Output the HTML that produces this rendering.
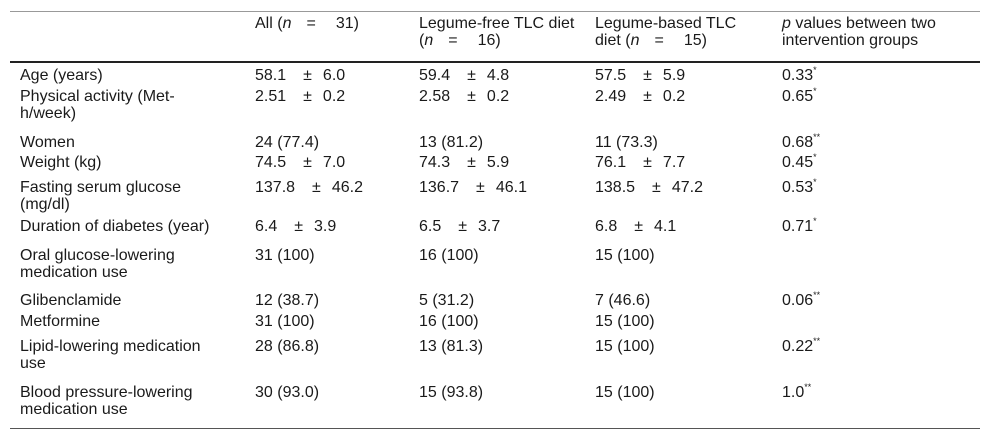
<!DOCTYPE html>
<html><head><meta charset="utf-8"><style>
body{margin:0;width:992px;height:441px;background:#fff;position:relative;font-family:"Liberation Sans",sans-serif;font-size:16px;color:#1a1a1a;overflow:hidden}
.l{position:absolute;left:10px;width:970px}
.t{position:absolute;line-height:17px;white-space:nowrap}
.pm{margin:0 11px 0 17px}
.eq{margin:0 20px 0 15px}
sup{font-size:9px;line-height:0;vertical-align:7px}
</style></head><body>
<div class="l" style="top:11px;height:1px;background:#999"></div>
<div class="l" style="top:61px;height:2px;background:#222"></div>
<div class="l" style="top:428px;height:1px;background:#555"></div>
<div id="c"></div>
<script>
const X=[20,255,419,595,782];
const P='<span class="pm">±</span>';
const E='<span class="eq">=</span>';
const rows=[
[15,['','All (<i>n</i>'+E+'31)','Legume-free TLC diet<br>(<i>n</i>'+E+'16)','Legume-based TLC<br>diet (<i>n</i>'+E+'15)','<i>p</i> values between two<br>intervention groups']],
[67,['Age (years)','58.1'+P+'6.0','59.4'+P+'4.8','57.5'+P+'5.9','0.33<sup>*</sup>']],
[88,['Physical activity (Met-<br>h/week)','2.51'+P+'0.2','2.58'+P+'0.2','2.49'+P+'0.2','0.65<sup>*</sup>']],
[134,['Women','24 (77.4)','13 (81.2)','11 (73.3)','0.68<sup>**</sup>']],
[154,['Weight (kg)','74.5'+P+'7.0','74.3'+P+'5.9','76.1'+P+'7.7','0.45<sup>*</sup>']],
[179,['Fasting serum glucose<br>(mg/dl)','137.8'+P+'46.2','136.7'+P+'46.1','138.5'+P+'47.2','0.53<sup>*</sup>']],
[218,['Duration of diabetes (year)','6.4'+P+'3.9','6.5'+P+'3.7','6.8'+P+'4.1','0.71<sup>*</sup>']],
[247,['Oral glucose-lowering<br>medication use','31 (100)','16 (100)','15 (100)','']],
[292,['Glibenclamide','12 (38.7)','5 (31.2)','7 (46.6)','0.06<sup>**</sup>']],
[313,['Metformine','31 (100)','16 (100)','15 (100)','']],
[338,['Lipid-lowering medication<br>use','28 (86.8)','13 (81.3)','15 (100)','0.22<sup>**</sup>']],
[384,['Blood pressure-lowering<br>medication use','30 (93.0)','15 (93.8)','15 (100)','1.0<sup>**</sup>']]
];
const c=document.getElementById('c');
rows.forEach((r,i)=>{r[1].forEach((h,j)=>{if(!h)return;const d=document.createElement('div');d.className='t';d.style.left=X[j]+'px';d.style.top=r[0]+'px';d.innerHTML=h;


c.appendChild(d);});});
</script>
</body></html>
